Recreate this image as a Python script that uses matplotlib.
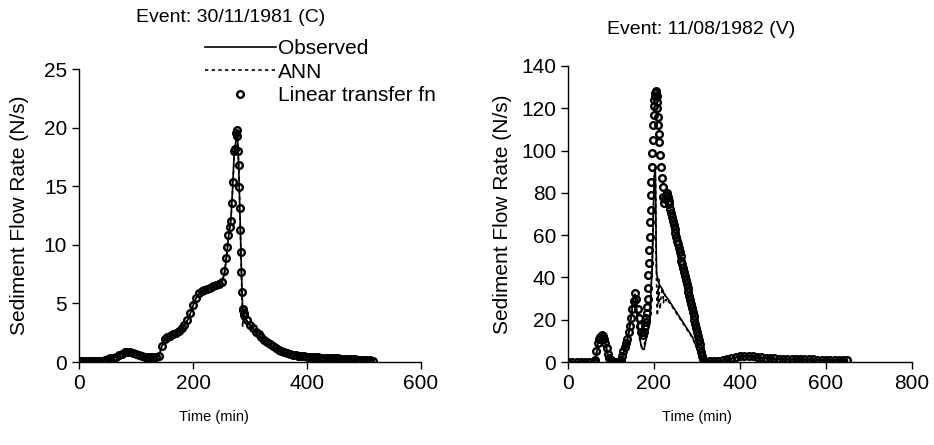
import matplotlib
matplotlib.use("Agg")
import matplotlib.pyplot as plt

plt.rcParams['font.family'] = ['Liberation Sans', 'DejaVu Sans']

# ---- Event 30/11/1981 (C) ----
time_c = list(range(0, 251, 5)) + [255, 258, 260, 262, 264, 266, 268, 270, 272, 274, 276,
                                   277, 278, 279, 280, 281, 282, 283, 284, 285, 286, 287,
                                   288, 289, 290] + list(range(295, 516, 5))

obs_c = [0.05, 0.05, 0.05, 0.05, 0.05, 0.06, 0.07, 0.08, 0.1, 0.15,
         0.22, 0.3, 0.35, 0.42, 0.55, 0.68, 0.8, 0.85, 0.85, 0.8,
         0.7, 0.6, 0.5, 0.45, 0.42, 0.42, 0.42, 0.42, 0.5, 1.3,
         1.9, 2.1, 2.2, 2.3, 2.4, 2.6, 2.8, 3.1, 3.5, 4.1,
         4.8, 5.4, 5.8, 6.0, 6.1, 6.2, 6.3, 6.4, 6.5, 6.6,
         6.7,
         7.5, 8.6, 9.6, 10.6, 11.3, 11.8, 13.5, 15.4, 17.6, 18.3, 19.4,
         19.8, 19.1, 18.0, 16.8, 15.0, 13.2, 11.4, 9.5, 7.7, 6.0, 4.6,
         4.3, 4.1, 3.9,
         3.5, 3.15, 2.85, 2.55, 2.3, 2.05, 1.85, 1.65, 1.45, 1.3,
         1.15, 1.02, 0.92, 0.82, 0.74, 0.67, 0.61, 0.56, 0.52, 0.48,
         0.46, 0.44, 0.42, 0.41, 0.4, 0.38, 0.37, 0.36, 0.35, 0.34,
         0.33, 0.31, 0.3, 0.28, 0.27, 0.26, 0.25, 0.23, 0.22, 0.2,
         0.19, 0.18, 0.16, 0.14, 0.12]

ann_c = [0.05, 0.05, 0.05, 0.05, 0.06, 0.07, 0.08, 0.09, 0.11, 0.16,
         0.23, 0.3, 0.36, 0.44, 0.56, 0.7, 0.8, 0.84, 0.84, 0.78,
         0.68, 0.58, 0.5, 0.45, 0.43, 0.43, 0.43, 0.43, 0.55, 1.2,
         1.8, 2.1, 2.2, 2.3, 2.45, 2.6, 2.85, 3.1, 3.6, 4.2,
         4.9, 5.4, 5.8, 6.0, 6.1, 6.2, 6.3, 6.4, 6.5, 6.6,
         6.8,
         7.6, 8.7, 9.6, 10.5, 11.2, 11.9, 13.3, 15.2, 17.4, 18.2, 19.2,
         19.6, 19.0, 18.1, 16.9, 15.2, 13.4, 11.5, 9.3, 7.2, 5.2, 3.0,
         4.0, 4.0, 3.8,
         3.4, 3.1, 2.8, 2.5, 2.25, 2.05, 1.85, 1.65, 1.45, 1.3,
         1.15, 1.03, 0.92, 0.83, 0.75, 0.68, 0.62, 0.57, 0.52, 0.49,
         0.46, 0.44, 0.42, 0.41, 0.4, 0.38, 0.37, 0.36, 0.35, 0.34,
         0.33, 0.31, 0.3, 0.28, 0.27, 0.26, 0.25, 0.23, 0.22, 0.2,
         0.19, 0.18, 0.16, 0.14, 0.12]

ltf_c = [0.05, 0.05, 0.05, 0.05, 0.05, 0.05, 0.06, 0.08, 0.1, 0.16,
         0.24, 0.32, 0.38, 0.45, 0.58, 0.7, 0.82, 0.88, 0.86, 0.8,
         0.7, 0.6, 0.52, 0.46, 0.43, 0.42, 0.42, 0.43, 0.52, 1.4,
         2.0, 2.15, 2.25, 2.35, 2.45, 2.65, 2.9, 3.2, 3.6, 4.2,
         4.9, 5.5, 5.9, 6.05, 6.15, 6.25, 6.35, 6.45, 6.55, 6.65,
         6.8,
         7.8, 8.9, 9.8, 10.8, 11.5, 12.0, 13.6, 15.4, 18.0, 18.2, 19.5,
         19.8, 19.3, 18.0, 16.8, 14.9, 13.1, 11.3, 9.4, 7.7, 6.0, 4.5,
         4.4, 4.2, 4.0,
         3.6, 3.2, 2.9, 2.6, 2.35, 2.1, 1.9, 1.7, 1.5, 1.35,
         1.2, 1.06, 0.95, 0.85, 0.77, 0.7, 0.63, 0.58, 0.53, 0.5,
         0.47, 0.45, 0.43, 0.42, 0.41, 0.39, 0.38, 0.37, 0.36, 0.35,
         0.34, 0.32, 0.31, 0.29, 0.28, 0.27, 0.26, 0.24, 0.23, 0.21,
         0.2, 0.18, 0.16, 0.14, 0.12]

# ---- Event 11/08/1982 (V) ----
time_v = (list(range(0, 60, 10)) + list(range(60, 181, 3)) + list(range(181, 213))
          + list(range(214, 321, 2)) + list(range(330, 651, 10)))

obs_v = [0, 0, 0, 0, 0, 0.1,
         0.2, 0.5, 3, 8, 10.5, 11.5, 12.5, 12.5, 11, 9,
         6, 3.5, 1.5, 0.5, 0.1, 0, 0, 0, 0, 0,
         0, 0.5, 2, 4, 6, 8, 10, 13, 17, 22,
         27, 31, 32, 27, 20, 14, 10, 7, 6, 6,
         9,
         10, 11, 12, 13, 14, 15, 16, 17, 18, 19,
         22, 27, 33, 38, 40, 45, 55, 65, 75, 83,
         88, 91, 92, 80, 55, 43, 41, 40, 39, 38,
         37.5, 37,
         36, 35.5, 35, 34, 33, 32, 31.5, 31, 30.5, 30,
         29.4, 28.7, 28.1, 27.5, 26.8, 26.2, 25.6, 24.9, 24.3, 23.7,
         23, 22.4, 21.8, 21.1, 20.5, 19.9, 19.2, 18.6, 18, 17.4,
         16.7, 16.1, 15.5, 14.8, 14.2, 13.6, 12.9, 12.3, 11.7, 10.5,
         9.5, 8.5, 7.5, 6.5, 5.5, 4.5, 3.5, 2.5, 1.5, 0.7,
         0.2, 0.1, 0.1, 0.1,
         0.2, 0.4, 0.5, 0.8, 1.2, 1.7, 2.2, 2.6, 2.8, 2.8,
         2.6, 2.3, 2.0, 1.8, 1.7, 1.6, 1.5, 1.4, 1.4, 1.3,
         1.3, 1.2, 1.2, 1.1, 1.1, 1.0, 1.0, 1.0, 0.9, 0.9,
         0.9, 0.8, 0.8]

ann_v = [0, 0, 0, 0, 0, 0.1,
         0.2, 0.8, 4, 8.5, 10.5, 11.5, 12, 12, 10.5, 8.5,
         6, 3.5, 1.5, 0.5, 0.1, 0, 0, 0, 0, 0,
         0, 0.5, 2.5, 4.5, 6.5, 8.5, 10.5, 13.5, 17, 21,
         25, 28, 28, 24, 18, 13, 9.5, 7.5, 7, 8,
         10,
         11, 12, 13, 14, 15, 16, 17, 18, 19, 20,
         23, 28, 34, 38, 41, 47, 57, 67, 76, 84,
         88, 90, 90, 78, 52, 38, 30, 22, 35, 28,
         40, 32,
         25, 30, 33, 35, 28, 30, 32, 29, 30, 29,
         28.5, 28, 27.5, 27, 26.3, 25.7, 25, 24.4, 23.8, 23.2,
         22.5, 21.9, 21.3, 20.6, 20, 19.4, 18.7, 18.1, 17.5, 16.9,
         16.2, 15.6, 15, 14.3, 13.7, 13.1, 12.4, 11.8, 11.2, 10.2,
         9.2, 8.2, 7.2, 6.2, 5.2, 4.2, 3.2, 2.2, 1.3, 0.6,
         0.2, 0.1, 0.1, 0.1,
         0.2, 0.4, 0.5, 0.8, 1.2, 1.7, 2.2, 2.6, 2.8, 2.8,
         2.6, 2.3, 2.0, 1.8, 1.7, 1.6, 1.5, 1.4, 1.4, 1.3,
         1.3, 1.2, 1.2, 1.1, 1.1, 1.0, 1.0, 1.0, 0.9, 0.9,
         0.9, 0.8, 0.8]

ltf_v = [0, 0, 0, 0, 0, 0.1,
         0.2, 1, 5, 9, 11, 12, 12.8, 12.5, 11, 9,
         6.5, 4, 2, 1, 0.3, 0, 0, 0, 0, 0,
         0, 1, 3, 5, 7, 9, 11, 14, 17, 21,
         25, 29, 32.5, 30, 25, 21, 17, 14, 13, 14,
         17,
         19, 21, 23, 26, 30, 35, 41, 47, 53, 59,
         66, 72, 79, 85, 92, 99, 105, 112, 117, 121,
         124, 126, 127, 128, 127.5, 126, 123, 120, 116, 112,
         108, 104,
         98, 92, 87, 83, 78, 75, 77, 79, 80, 78,
         76, 74.5, 72.5, 70.6, 68.7, 66.8, 65, 63, 61.2, 59.3,
         57.4, 55.6, 53.7, 51.8, 49.9, 48, 46.2, 44.3, 42.4, 40.5,
         38.6, 36.8, 34.9, 33, 31.1, 29.2, 27.4, 25.5, 23.6, 21.7,
         19.8, 18, 16.1, 14.2, 12.3, 10.4, 8.6, 6.7, 4.8, 2.9,
         1.2, 0.4, 0.2, 0.2,
         0.3, 0.5, 0.6, 0.9, 1.3, 1.8, 2.4, 2.8, 3.0, 3.0,
         2.8, 2.5, 2.2, 2.0, 1.8, 1.7, 1.6, 1.5, 1.5, 1.4,
         1.4, 1.3, 1.3, 1.2, 1.2, 1.1, 1.1, 1.1, 1.0, 1.0,
         1.0, 0.9, 0.9]

fig = plt.figure(figsize=(9.34, 4.45), dpi=100)
ax1 = fig.add_axes([0.0846, 0.1865, 0.3662, 0.6584])
ax2 = fig.add_axes([0.6081, 0.1865, 0.3683, 0.6652])


def draw(ax, t, obs, ann, ltf):
    ax.plot(t, obs, color='black', lw=1.2, label='Observed', zorder=2)
    ax.plot(t, ann, color='black', lw=1.2, linestyle=(0, (2, 2)), label='ANN', zorder=3)
    ax.plot(t, ltf, linestyle='none', marker='o', ms=4.8, mfc='none', mec='black',
            mew=1.7, label='Linear transfer fn', zorder=4)
    for side in ['top', 'right']:
        ax.spines[side].set_visible(False)
    for side in ['left', 'bottom']:
        ax.spines[side].set_linewidth(1.0)
    ax.tick_params(direction='out', length=5, width=1.0, labelsize=15, colors='black')
    ax.set_ylabel('Sediment Flow Rate (N/s)', fontsize=15)
    ax.set_xlabel('Time (min)', fontsize=10.5)


draw(ax1, time_c, obs_c, ann_c, ltf_c)
ax1.set_xlim(0, 600)
ax1.set_ylim(0, 25)
ax1.set_xticks([0, 200, 400, 600])
ax1.set_yticks([0, 5, 10, 15, 20, 25])
ax1.yaxis.set_label_coords(-0.147, 0.5)
ax1.xaxis.set_label_coords(0.395, -0.164)
ax1.text(0.444, 1.177, 'Event: 30/11/1981 (C)', transform=ax1.transAxes,
         ha='center', va='center', fontsize=14)
ax1.legend(loc='upper left', bbox_to_anchor=(0.2195, 0.912), bbox_transform=fig.transFigure,
           frameon=False, fontsize=15, handlelength=3.4, handletextpad=0.1,
           labelspacing=0.22, borderpad=0, borderaxespad=0, numpoints=1)

draw(ax2, time_v, obs_v, ann_v, ltf_v)
ax2.set_xlim(0, 800)
ax2.set_ylim(0, 140)
ax2.set_xticks([0, 200, 400, 600, 800])
ax2.set_yticks([0, 20, 40, 60, 80, 100, 120, 140])
ax2.yaxis.set_label_coords(-0.162, 0.5)
ax2.xaxis.set_label_coords(0.375, -0.162)
ax2.text(0.387, 1.122, 'Event: 11/08/1982 (V)', transform=ax2.transAxes,
         ha='center', va='center', fontsize=14)

fig.savefig('out.png', dpi=100)
